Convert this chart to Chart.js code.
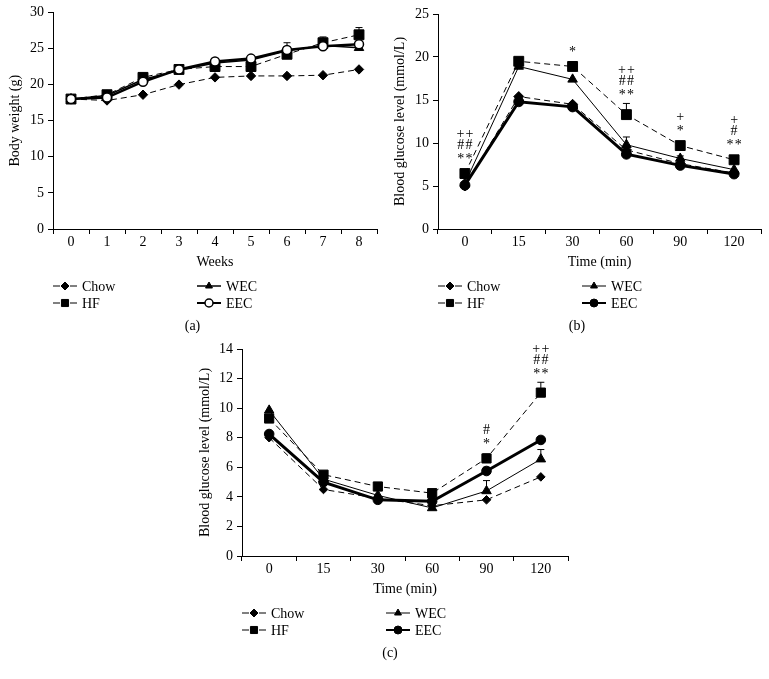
<!DOCTYPE html>
<html>
<head>
<meta charset="utf-8">
<script src="https://cdn.jsdelivr.net/npm/chart.js@4.4.1/dist/chart.umd.min.js"></script>
<style>
  body { margin: 0; background: #fff; width: 769px; height: 679px; position: relative; overflow: hidden; }
  .panel { position: absolute; }
</style>
</head>
<body>
<div class="panel" style="left:0;top:0;width:385px;height:335px"><canvas id="chartA"></canvas></div>
<div class="panel" style="left:385px;top:0;width:384px;height:335px"><canvas id="chartB"></canvas></div>
<div class="panel" style="left:190px;top:330px;width:400px;height:349px"><canvas id="chartC"></canvas></div>
<script>
// Body weight, OGTT and ITT curves for the four diet groups

const SERIF = '"Liberation Serif", "Times New Roman", serif';

// Categories
const weekLabels = ['0', '1', '2', '3', '4', '5', '6', '7', '8'];
const timeLabels = ['0', '15', '30', '60', '90', '120'];

// (a) Body weight (g)
const weightChow = [18.0, 17.8, 18.6, 20.0, 21.0, 21.2, 21.2, 21.3, 22.1];
const weightHF   = [18.0, 18.6, 21.0, 22.1, 22.5, 22.5, 24.2, 25.8, 26.9];
const weightWEC  = [18.0, 18.5, 20.7, 22.0, 23.0, 23.4, 24.7, 25.4, 25.1];
const weightEEC  = [18.0, 18.2, 20.4, 22.1, 23.2, 23.6, 24.8, 25.3, 25.6];
const weightErrHF  = [0, 0, 0, 0, 0, 0, 0, 0.8, 1.0];
const weightErrWEC = [0, 0, 0, 0, 0, 0, 1.1, 0, 0];

// (b) Blood glucose, glucose tolerance (mmol/L)
const ogttChow = [5.0, 15.4, 14.5, 9.2, 7.6, 6.5];
const ogttHF   = [6.45, 19.5, 18.9, 13.3, 9.7, 8.05];
const ogttWEC  = [5.3, 18.9, 17.4, 9.8, 8.2, 6.9];
const ogttEEC  = [5.1, 14.8, 14.2, 8.7, 7.4, 6.4];
const ogttErrHF  = [0, 0, 0, 1.3, 0, 0.3];
const ogttErrWEC = [0, 0, 0, 0.9, 0.3, 0];
const ogttMarks = [[0, ['++', '##', '**']], [2, ['*']], [3, ['++', '##', '**']], [4, ['+', '*']], [5, ['+', '#', '**']]];

// (c) Blood glucose, insulin tolerance (mmol/L)
const ittChow = [8.0, 4.5, 3.9, 3.4, 3.8, 5.35];
const ittHF   = [9.3, 5.5, 4.7, 4.25, 6.6, 11.05];
const ittWEC  = [9.85, 5.2, 4.1, 3.25, 4.4, 6.55];
const ittEEC  = [8.25, 5.0, 3.8, 3.7, 5.75, 7.85];
const ittErrHF  = [0, 0, 0, 0, 0.3, 0.7];
const ittErrWEC = [0, 0, 0, 0, 0.7, 0.65];
const ittErrEEC = [0, 0, 0, 0, 0.25, 0.2];
const ittMarks = [[4, ['#', '*']], [5, ['++', '##', '**']]];

// Error bars (upper half only, with a cap)
const errorBars = {
    id: 'errorBars',
    beforeDatasetsDraw(chart) {
        const ctx = chart.ctx;
        const yScale = chart.scales.y;
        chart.data.datasets.forEach((ds, i) => {
            if (!ds.errors) return;
            const meta = chart.getDatasetMeta(i);
            ctx.save();
            ctx.strokeStyle = '#000';
            ctx.lineWidth = 1;
            ds.errors.forEach((e, j) => {
                if (!e) return;
                const pt = meta.data[j];
                const top = yScale.getPixelForValue(ds.data[j] + e);
                ctx.beginPath();
                ctx.moveTo(pt.x, pt.y);
                ctx.lineTo(pt.x, top);
                ctx.moveTo(pt.x - 3.5, top);
                ctx.lineTo(pt.x + 3.5, top);
                ctx.stroke();
            });
            ctx.restore();
        });
    }
};

// Significance symbols stacked above the HF points
const sigMarks = {
    id: 'sigMarks',
    afterDatasetsDraw(chart, args, opts) {
        if (!opts.items) return;
        const ctx = chart.ctx;
        const idx = chart.data.datasets.findIndex(d => d.label === 'HF');
        const ds = chart.data.datasets[idx];
        const meta = chart.getDatasetMeta(idx);
        const yScale = chart.scales.y;
        ctx.save();
        ctx.fillStyle = '#000';
        ctx.font = `14px ${SERIF}`;
        ctx.textAlign = 'center';
        ctx.textBaseline = 'middle';
        opts.items.forEach(([j, lines]) => {
            const x = meta.data[j].x;
            const err = ds.errors ? ds.errors[j] : 0;
            let y = Math.min(yScale.getPixelForValue(ds.data[j] + err), meta.data[j].y - 6) - 11;
            for (let k = lines.length - 1; k >= 0; k--) {
                const txt = lines[k].split('').join(String.fromCharCode(8202));
                ctx.fillText(txt, x, lines[k].includes('*') ? y + 3 : y);
                y -= 11;
            }
        });
        ctx.restore();
    }
};

// Two-column legend and panel caption under the axis
const panelLegend = {
    id: 'panelLegend',
    afterDraw(chart, args, opts) {
        const { ctx, chartArea } = chart;
        const x0 = chartArea.left;
        const y0 = chartArea.bottom + 57;
        ctx.save();
        chart.data.datasets.forEach((ds, i) => {
            const sx = x0 + Math.floor(i / 2) * 144;
            const sy = y0 + (i % 2) * 17;
            ctx.strokeStyle = '#000';
            ctx.lineWidth = Math.min(ds.borderWidth, 2);
            ctx.beginPath();
            if (ds.borderDash) {
                ctx.moveTo(sx, sy); ctx.lineTo(sx + 7, sy);
                ctx.moveTo(sx + 17, sy); ctx.lineTo(sx + 24, sy);
            } else {
                ctx.moveTo(sx, sy); ctx.lineTo(sx + 24, sy);
            }
            ctx.stroke();
            ctx.fillStyle = ds.pointBackgroundColor;
            ctx.strokeStyle = ds.pointBorderColor;
            ctx.lineWidth = ds.pointBorderWidth;
            Chart.helpers.drawPoint(ctx, {
                pointStyle: ds.pointStyle,
                radius: ds.pointStyle === 'rect' ? 5 : 4,
                rotation: 0,
                borderWidth: ds.pointBorderWidth
            }, sx + 12, sy);
            ctx.fillStyle = '#000';
            ctx.font = `14px ${SERIF}`;
            ctx.textAlign = 'left';
            ctx.textBaseline = 'middle';
            ctx.fillText(ds.label, sx + 29, sy + 1);
        });
        ctx.font = `14px ${SERIF}`;
        ctx.textAlign = 'center';
        ctx.fillText(opts.caption, chart.width / 2, chartArea.bottom + 97);
        ctx.restore();
    }
};

function series(label, data, style) {
    return Object.assign({
        label: label,
        data: data,
        borderColor: '#000',
        pointBorderColor: '#000',
        pointBackgroundColor: '#000',
        pointBorderWidth: 1,
        pointHoverRadius: 0,
        tension: 0,
        fill: false,
        clip: false
    }, style);
}

function buildScales(labels, yMax, yStep, yTitle, xTitle, yWidth) {
    const font = { family: SERIF, size: 14 };
    return {
        x: {
            type: 'category',
            labels: labels,
            offset: true,
            grid: { display: true, offset: true, drawOnChartArea: false, tickLength: 5, color: '#000' },
            border: { display: true, color: '#000', width: 1 },
            ticks: { color: '#000', font: font, padding: 0, maxRotation: 0 },
            title: { display: true, text: xTitle, color: '#000', font: font, padding: { top: 3, bottom: 0 } },
            afterFit: s => { s.height = 42; }
        },
        y: {
            min: 0,
            max: yMax,
            ticks: { stepSize: yStep, color: '#000', font: font, padding: 4 },
            grid: { drawOnChartArea: false, tickLength: 5, color: '#000' },
            border: { display: true, color: '#000', width: 1 },
            title: { display: true, text: yTitle, color: '#000', font: font, padding: { top: 7, bottom: 0 } },
            afterFit: s => { s.width = yWidth; }
        }
    };
}

function makeChart(id, labels, datasets, opts) {
    return new Chart(document.getElementById(id), {
        type: 'line',
        data: { labels: labels, datasets: datasets },
        options: {
            responsive: true,
            maintainAspectRatio: false,
            animation: false,
            events: [],
            layout: { padding: opts.padding },
            scales: buildScales(labels, opts.yMax, opts.yStep, opts.yTitle, opts.xTitle, opts.yWidth),
            plugins: {
                legend: { display: false },
                tooltip: { enabled: false },
                sigMarks: { items: opts.marks },
                panelLegend: { caption: opts.caption }
            }
        },
        plugins: [errorBars, sigMarks, panelLegend]
    });
}

const dashed = [6, 4];

// (a)
makeChart('chartA', weekLabels, [
    series('Chow', weightChow, { borderWidth: 1, borderDash: dashed, pointStyle: 'rectRot', pointRadius: 4.7 }),
    series('HF', weightHF, { borderWidth: 1, borderDash: dashed, pointStyle: 'rect', pointRadius: 7, errors: weightErrHF }),
    series('WEC', weightWEC, { borderWidth: 1.5, pointStyle: 'triangle', pointRadius: 5.5, errors: weightErrWEC }),
    series('EEC', weightEEC, { borderWidth: 2.5, pointStyle: 'circle', pointRadius: 4.5, pointBorderWidth: 1.5, pointBackgroundColor: '#fff', order: -1 })
], { padding: { top: 12, right: 7, bottom: 64, left: 0 }, yMax: 30, yStep: 5, yWidth: 53,
     yTitle: 'Body weight (g)', xTitle: 'Weeks', caption: '(a)', marks: null });

// (b)
makeChart('chartB', timeLabels, [
    series('Chow', ogttChow, { borderWidth: 1, borderDash: dashed, pointStyle: 'rectRot', pointRadius: 5 }),
    series('HF', ogttHF, { borderWidth: 1, borderDash: dashed, pointStyle: 'rect', pointRadius: 7, errors: ogttErrHF }),
    series('WEC', ogttWEC, { borderWidth: 1, pointStyle: 'triangle', pointRadius: 5.5, errors: ogttErrWEC }),
    series('EEC', ogttEEC, { borderWidth: 3, pointStyle: 'circle', pointRadius: 5 })
], { padding: { top: 14, right: 7, bottom: 64, left: 0 }, yMax: 25, yStep: 5, yWidth: 53,
     yTitle: 'Blood glucose level (mmol/L)', xTitle: 'Time (min)', caption: '(b)', marks: ogttMarks });

// (c)
makeChart('chartC', timeLabels, [
    series('Chow', ittChow, { borderWidth: 1, borderDash: dashed, pointStyle: 'rectRot', pointRadius: 4.3 }),
    series('HF', ittHF, { borderWidth: 1, borderDash: dashed, pointStyle: 'rect', pointRadius: 6.5, errors: ittErrHF }),
    series('WEC', ittWEC, { borderWidth: 1, pointStyle: 'triangle', pointRadius: 5.5, errors: ittErrWEC }),
    series('EEC', ittEEC, { borderWidth: 3, pointStyle: 'circle', pointRadius: 4.8, errors: ittErrEEC })
], { padding: { top: 19, right: 22, bottom: 81, left: 0 }, yMax: 14, yStep: 2, yWidth: 52,
     yTitle: 'Blood glucose level (mmol/L)', xTitle: 'Time (min)', caption: '(c)', marks: ittMarks });
</script>
</body>
</html>
